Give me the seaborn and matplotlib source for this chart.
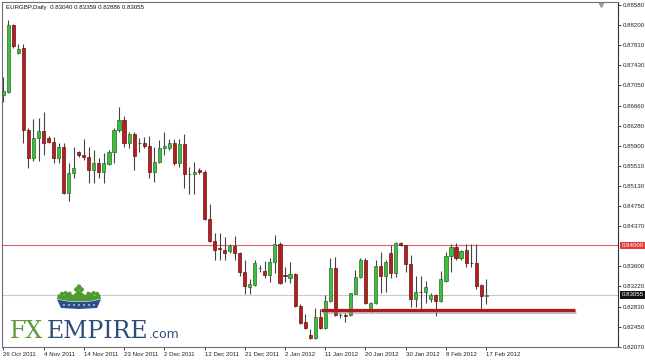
import numpy as np
import pandas as pd
import matplotlib
matplotlib.use("Agg")
import matplotlib.pyplot as plt
import matplotlib.patheffects as pe
from matplotlib.patches import Polygon, Circle
from matplotlib.transforms import blended_transform_factory
import seaborn as sns

# ---------------- data (EURGBP daily) ----------------
date_labels = ["26 Oct 2011", "4 Nov 2011", "14 Nov 2011", "23 Nov 2011", "2 Dec 2011",
               "12 Dec 2011", "21 Dec 2011", "2 Jan 2012", "11 Jan 2012", "20 Jan 2012",
               "30 Jan 2012", "8 Feb 2012", "17 Feb 2012"]
label_every = 8

opens = [
    0.8687, 0.8692, 0.8820, 0.8766, 0.8776, 0.8620, 0.8567, 0.8605, 0.8618, 0.8605,
    0.8597, 0.8567, 0.8588, 0.8500, 0.8538, 0.8578, 0.8572, 0.8569, 0.8544, 0.8557,
    0.8540, 0.8555, 0.8578, 0.8620, 0.8639, 0.8595, 0.8612, 0.8595, 0.8595, 0.8590,
    0.8540, 0.8559, 0.8586, 0.8586, 0.8595, 0.8557, 0.8593, 0.8535, 0.8536, 0.8544,
    0.8540, 0.8451, 0.8409, 0.8394, 0.8392, 0.8390, 0.8398, 0.8386, 0.8350, 0.8320,
    0.8324, 0.8356, 0.8352, 0.8343, 0.8369, 0.8402, 0.8343, 0.8337, 0.8345, 0.8284,
    0.8254, 0.8229, 0.8223, 0.8263, 0.8242, 0.8295, 0.8356, 0.8267, 0.8267, 0.8267,
    0.8308, 0.8339, 0.8373, 0.8276, 0.8291, 0.8360, 0.8341, 0.8386, 0.8348, 0.8405,
    0.8400, 0.8364, 0.8297, 0.8312, 0.8312, 0.8297, 0.8305, 0.8295, 0.8333, 0.8379,
    0.8396, 0.8375, 0.8392, 0.8367, 0.8367, 0.8324, 0.83040]
highs = [
    0.8721, 0.8829, 0.8821, 0.8783, 0.8783, 0.8624, 0.8641, 0.8643, 0.8654, 0.8609,
    0.8607, 0.8595, 0.8595, 0.8557, 0.8588, 0.8580, 0.8603, 0.8588, 0.8582, 0.8567,
    0.8576, 0.8582, 0.8624, 0.8664, 0.8647, 0.8616, 0.8616, 0.8605, 0.8607, 0.8609,
    0.8588, 0.8601, 0.8616, 0.8603, 0.8603, 0.8603, 0.8612, 0.8550, 0.8559, 0.8548,
    0.8544, 0.8479, 0.8424, 0.8424, 0.8415, 0.8402, 0.8417, 0.8388, 0.8373, 0.8335,
    0.8373, 0.8362, 0.8371, 0.8375, 0.8420, 0.8407, 0.8358, 0.8369, 0.8348, 0.8288,
    0.8269, 0.8240, 0.8280, 0.8278, 0.8305, 0.8375, 0.8377, 0.8272, 0.8272, 0.8310,
    0.8354, 0.8375, 0.8375, 0.8292, 0.8373, 0.8388, 0.8373, 0.8400, 0.8407, 0.8407,
    0.8401, 0.8382, 0.8341, 0.8341, 0.8333, 0.8310, 0.8307, 0.8352, 0.8388, 0.8403,
    0.8405, 0.8392, 0.8402, 0.8402, 0.8402, 0.8326, 0.83359]
lows = [
    0.8673, 0.8690, 0.8776, 0.8764, 0.8595, 0.8548, 0.8561, 0.8561, 0.8572, 0.8595,
    0.8557, 0.8557, 0.8498, 0.8485, 0.8529, 0.8569, 0.8563, 0.8519, 0.8519, 0.8529,
    0.8519, 0.8553, 0.8557, 0.8616, 0.8588, 0.8586, 0.8544, 0.8578, 0.8586, 0.8529,
    0.8521, 0.8557, 0.8572, 0.8582, 0.8553, 0.8550, 0.8510, 0.8497, 0.8497, 0.8535,
    0.8449, 0.8407, 0.8373, 0.8373, 0.8373, 0.8386, 0.8373, 0.8341, 0.8307, 0.8307,
    0.8322, 0.8350, 0.8337, 0.8331, 0.8348, 0.8327, 0.8331, 0.8329, 0.8282, 0.8250,
    0.8240, 0.8221, 0.8221, 0.8240, 0.8240, 0.8293, 0.8265, 0.8261, 0.8255, 0.8265,
    0.8307, 0.8337, 0.8288, 0.8274, 0.8288, 0.8310, 0.8312, 0.8337, 0.8339, 0.8398,
    0.8350, 0.8282, 0.8282, 0.8278, 0.8291, 0.8293, 0.8265, 0.8293, 0.8331, 0.8350,
    0.8373, 0.8373, 0.8358, 0.8358, 0.8316, 0.8278, 0.82886]
closes = [
    0.8694, 0.8820, 0.8780, 0.8774, 0.8620, 0.8567, 0.8605, 0.8618, 0.8595, 0.8597,
    0.8567, 0.8588, 0.8500, 0.8538, 0.8548, 0.8572, 0.8569, 0.8544, 0.8557, 0.8540,
    0.8557, 0.8578, 0.8620, 0.8639, 0.8595, 0.8612, 0.8571, 0.8594, 0.8590, 0.8540,
    0.8559, 0.8586, 0.8590, 0.8595, 0.8557, 0.8593, 0.8535, 0.8536, 0.8540, 0.8540,
    0.8451, 0.8409, 0.8392, 0.8393, 0.8386, 0.8398, 0.8386, 0.8350, 0.8322, 0.8327,
    0.8367, 0.8357, 0.8343, 0.8369, 0.8402, 0.8329, 0.8342, 0.8345, 0.8284, 0.8252,
    0.8242, 0.8223, 0.8263, 0.8242, 0.8295, 0.8356, 0.8267, 0.8268, 0.8266, 0.8309,
    0.8339, 0.8373, 0.8291, 0.8290, 0.8360, 0.8341, 0.8369, 0.8348, 0.8405, 0.8400,
    0.8364, 0.8297, 0.8312, 0.8311, 0.8320, 0.8305, 0.8295, 0.8335, 0.8379, 0.8396,
    0.8375, 0.8390, 0.8367, 0.8366, 0.8322, 0.8303, 0.83055]

price_ticks = [0.88580, 0.88200, 0.87810, 0.87430, 0.87050, 0.86660, 0.86280, 0.85900,
               0.85510, 0.85130, 0.84750, 0.84370, 0.83600, 0.83220, 0.82830, 0.82450, 0.82070]

resistance_level = 0.84000
support_level = 0.8276
support_start, support_end = 63.2, 113.7
title_text = "EURGBP,Daily  0.83040 0.83359 0.82886 0.83055"

# ---------------- style ----------------
sns.set_theme(style="white")
plt.rcParams['font.family'] = ['Liberation Sans', 'DejaVu Sans']

fig = plt.figure(figsize=(6.45, 3.61), dpi=100)
fig.patch.set_facecolor("white")
ax = fig.add_axes([2 / 645, 14 / 361, 616 / 645, 345 / 361])

df = pd.DataFrame({"open": opens, "high": highs, "low": lows, "close": closes})
df["idx"] = np.arange(len(df))
df["bottom"] = df[["open", "close"]].min(axis=1)
df["height"] = (df["close"] - df["open"]).abs()
up = df["close"] >= df["open"]

# reference lines
ax.axhline(resistance_level, color="#e06262", lw=0.8, zorder=1)
ax.axhline(closes[-1], color="#c9c9c9", lw=0.8, zorder=1)

# wicks
ax.vlines(df["idx"], df["low"], df["high"], color="#454545", lw=0.8, zorder=2)
# bodies
ax.bar(df.loc[up, "idx"], df.loc[up, "height"], bottom=df.loc[up, "bottom"], width=0.62,
       color="#3cbf3c", edgecolor="#2a6d2a", linewidth=0.5, zorder=3)
ax.bar(df.loc[~up, "idx"], df.loc[~up, "height"], bottom=df.loc[~up, "bottom"], width=0.62,
       color="#b32020", edgecolor="#6a1212", linewidth=0.5, zorder=3)

# support line with shadow
ax.plot([support_start, support_end], [support_level, support_level], color="#b3191c", lw=2.3,
        solid_capstyle="butt", zorder=4,
        path_effects=[pe.SimpleLineShadow(offset=(0.6, -1.4), shadow_color="#888888", alpha=0.5),
                      pe.Normal()])

ax.set_xlim(-0.26, 122.2)
ax.set_ylim(0.82065, 0.88632)

# axes styling
ax.yaxis.tick_right()
ax.set_yticks(price_ticks)
ax.set_yticklabels([f"{v:.5f}" for v in price_ticks])
tick_pos = list(range(0, len(df), label_every))
ax.set_xticks(tick_pos)
ax.set_xticklabels(date_labels, ha="left")
ax.tick_params(axis="y", direction="out", length=2, width=0.6, pad=1.5, labelsize=4.4,
               colors="#222222", right=True, left=False)
ax.tick_params(axis="x", direction="out", length=2, width=0.6, pad=1.5, labelsize=4.4,
               colors="#222222", bottom=True)
for s in ax.spines.values():
    s.set_color("#707070")
    s.set_linewidth(0.8)
ax.spines["right"].set_color("#303030")
ax.grid(False)
ax.set_xlabel("")
ax.set_ylabel("")

# price label boxes on the right axis
trans = blended_transform_factory(ax.transAxes, ax.transData)
ax.text(1.006, resistance_level, f"{resistance_level:.5f}", transform=trans, fontsize=4.4,
        color="white", va="center", ha="left", clip_on=False,
        bbox=dict(boxstyle="square,pad=0.2", fc="#e23b3b", ec="none"))
ax.text(1.006, closes[-1], f"{closes[-1]:.5f}", transform=trans, fontsize=4.4,
        color="white", va="center", ha="left", clip_on=False,
        bbox=dict(boxstyle="square,pad=0.2", fc="#111111", ec="none"))

# title
ax.text(0.006, 0.9855, title_text, transform=ax.transAxes, fontsize=4.4, color="#111111",
        va="center", ha="left")
ax.plot([0.9725], [0.991], marker="v", ms=2.8, color="#9a9a9a", transform=ax.transAxes,
        clip_on=False)

# ---------------- logo overlay (pixel coordinates) ----------------
lax = fig.add_axes([0, 0, 1, 1], facecolor="none")
lax.set_xlim(0, 645)
lax.set_ylim(361, 0)
lax.axis("off")
lax.text(10, 338, "FX", color="#5e9b3e", fontsize=17, family="DejaVu Serif", va="baseline")
lax.text(47, 338, "EMPIRE", color="#2c4d7f", fontsize=17, family="DejaVu Serif", va="baseline")
lax.text(149, 338, ".com", color="#2c4d7f", fontsize=9, family="DejaVu Sans", va="baseline")
green = "#4f9a33"
lax.add_patch(Polygon([(57, 299), (58, 294), (63, 296), (68, 292), (73, 295), (79, 290),
                       (85, 295), (90, 292), (95, 296), (100, 294), (101, 299), (90, 301),
                       (79, 301.5), (68, 301)], closed=True, fc=green, ec="none"))
for cx, cy, r in [(76.5, 289.5, 2.4), (81.5, 289.5, 2.4), (79, 286.8, 2.4),
                  (62, 294, 2.2), (65.5, 293, 2.0), (93.5, 293, 2.0), (97, 294, 2.2),
                  (70, 293, 1.5), (88, 293, 1.5)]:
    lax.add_patch(Circle((cx, cy), r, fc=green, ec="none"))
lax.add_patch(Polygon([(57, 299.5), (68, 301.5), (79, 302), (90, 301.5), (101, 299.5),
                       (97, 308), (79, 309), (61, 308)], closed=True, fc="#2b4f8a", ec="none"))
for dx in range(64, 96, 5):
    lax.add_patch(Circle((dx, 305), 0.8, fc="white", ec="none"))

fig.savefig("out.png", dpi=100, facecolor="white")
